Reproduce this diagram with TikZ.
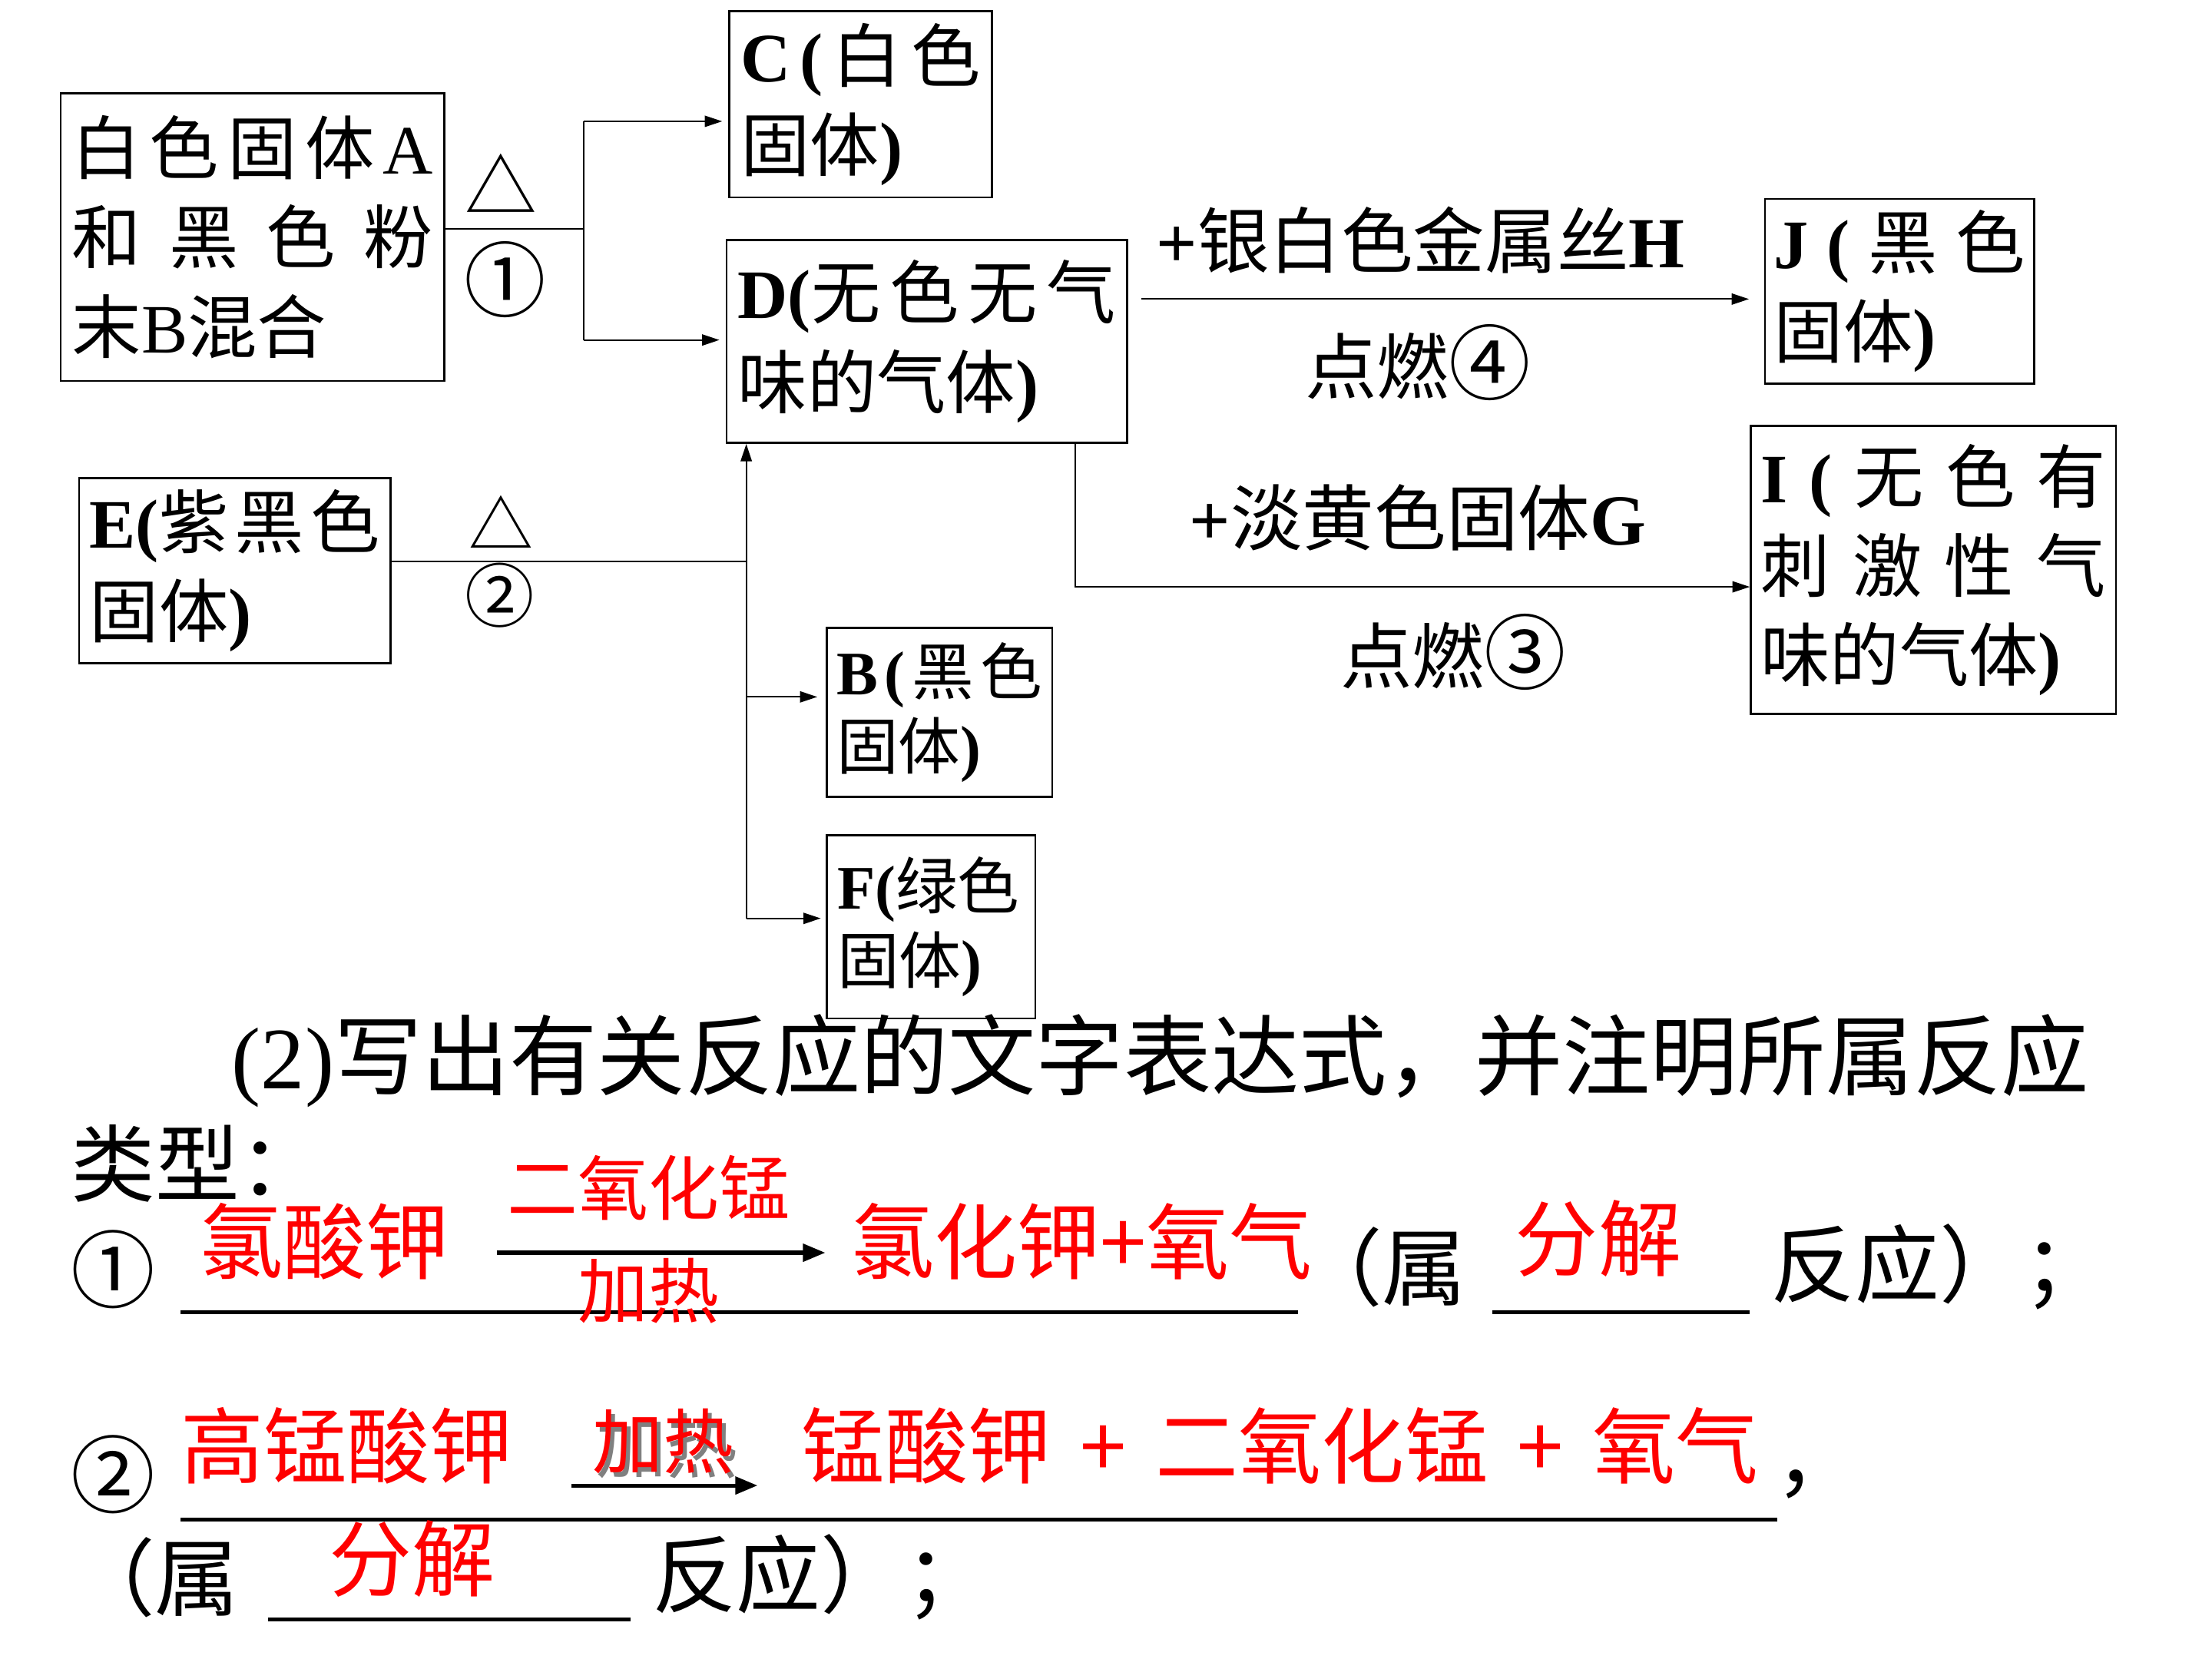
\documentclass[tikz,border=0pt]{standalone}
\usepackage{fontspec}
\setmainfont{Liberation Serif}
\newfontfamily\cjk{Noto Sans CJK SC}
\usetikzlibrary{arrows.meta}
\newcommand\LB[1]{{\rmfamily\bfseries #1}}
\newcommand\LR[1]{{\rmfamily #1}}
\newcommand\jline[1]{\makebox[\linewidth][s]{#1}}
\newcommand\bigc[1]{{\fontsize{33}{34}\selectfont #1}}
\begin{document}
\begin{tikzpicture}[x=0.02cm,y=-0.02cm,
  box/.style={draw, line width=0.8pt, inner sep=0pt, align=left, font=\cjk\fontsize{28}{36}\selectfont},
  sbox/.style={box, font=\cjk\fontsize{25}{30}\selectfont},
  lab/.style={inner sep=0pt, font=\cjk\fontsize{29}{34}\selectfont},
  conn/.style={line width=0.6pt},
  arr/.style={conn, -{Triangle[length=7pt,width=4.5pt]}},
  txt/.style={inner sep=0pt, font=\cjk\fontsize{34}{40}\selectfont},
  ans/.style={txt, text=red, font=\cjk\fontsize{33.5}{40}\selectfont},
  small/.style={font=\cjk\fontsize{28.5}{34}\selectfont},
  uline/.style={line width=1.5pt},
  bigarr/.style={line width=1.6pt, -{Triangle[length=9pt,width=7pt]}},
]
\fill[white] (0,0) rectangle (1568,1176);
\useasboundingbox (0,0) rectangle (1568,1176);

% boxes
\node[box, minimum width=5.44cm, minimum height=4.08cm, text width=5.12cm] (A) at (179,168)
  {\jline{白\hfill 色\hfill 固\hfill 体\hfill\LR{A}}\\\jline{和\hfill 黑\hfill 色\hfill 粉}\\末\LR{B}混合};
\node[box, minimum width=3.72cm, minimum height=2.64cm, text width=3.4cm] (C) at (610,74)
  {\jline{\LB{C}\hfill\LB{(}\hfill 白\hfill 色}\\固体\LB{)}};
\node[box, minimum width=5.68cm, minimum height=2.88cm, text width=5.36cm] (D) at (657,242)
  {\jline{\LB{D(}无\hfill 色\hfill 无\hfill 气}\\味的气体\LB{)}};
\node[box, minimum width=3.82cm, minimum height=2.62cm, text width=3.56cm] (J) at (1346.5,206.5)
  {\jline{\LB{J}\hfill\LB{(}\hfill 黑\hfill 色}\\固体\LB{)}};
\node[box, minimum width=5.18cm, minimum height=4.08cm, text width=4.9cm] (I) at (1370.5,404)
  {\jline{\LB{I}\hfill\LB{(}\hfill 无\hfill 色\hfill 有}\\\jline{刺\hfill 激\hfill 性\hfill 气}\\味的气体\LB{)}};
\node[box, minimum width=4.42cm, minimum height=2.62cm, text width=4.12cm] (E) at (166.5,404.5)
  {\jline{\LB{E(}紫\hfill 黑\hfill 色}\\固体\LB{)}};
\node[sbox, minimum width=3.2cm, minimum height=2.4cm, text width=2.92cm] (B) at (666,505)
  {\jline{\LB{B}\hfill\LB{(}\hfill 黑\hfill 色}\\固体\LB{)}};
\node[sbox, minimum width=2.96cm, minimum height=2.6cm, text width=2.66cm] (F) at (660,657)
  {\LB{F(}绿色\\固体\LB{)}};

% reaction 1
\coordinate (jA) at (414,162);
\coordinate (jC) at (414,86);
\coordinate (jD) at (414,241);
\draw[conn] (A.east |- jA) -- (jA);
\draw[conn] (jC) -- (jD);
\draw[arr, shorten >=2.5pt] (jC) -- (C.west |- jC);
\draw[arr, shorten >=2.5pt] (jD) -- (D.west |- jD);
\node[lab] (t1) at (355,130) {△};
\node[lab] (n1) at (358,198) {\bigc{①}};

% reaction 2
\coordinate (jE) at (529,398);
\coordinate (jB) at (529,494);
\coordinate (jF) at (529,651);
\draw[conn] (E.east |- jE) -- (jE);
\draw[arr] (jF) -- (jE |- D.south);
\draw[arr, shorten >=3.4pt] (jB) -- (B.west |- jB);
\draw[arr, shorten >=2pt] (jF) -- (F.west |- jF);
\node[lab, font=\cjk\fontsize{26}{30}\selectfont] (t2) at (355,370) {△};
\node[lab, font=\cjk\fontsize{28}{30}\selectfont] (n2) at (354,422) {②};

% reaction 4
\coordinate (dJ) at (809,212);
\draw[arr, shorten >=6pt] (dJ) -- (J.west |- dJ);
\node[lab] (h) at (1007,170) {\LB{+}银白色金属丝\LB{H}};
\node[lab] (r4) at (1005,257) {点燃\bigc{④}};

% reaction 3
\coordinate (dI) at (762,416);
\draw[arr] (D.south -| dI) -- (dI) -- (I.west |- dI);
\node[lab] (g) at (1005,367) {\LB{+}淡黄色固体\LB{G}};
\node[lab] (r3) at (1030,462) {点燃\bigc{③}};

% question text
\node[txt, anchor=west, font=\cjk\fontsize{35.4}{40}\selectfont] (q) at (164,752) {\LR{(2)}写出有关反应的文字表达式，并注明所属反应};
\node[txt, anchor=west] (typ) at (50,825) {类型：};

% line 1
\node[txt] (c1) at (80,900) {①};
\draw[uline] (128,930) -- (920,930);
\node[ans] (kc) at (230,880) {氯酸钾};
\coordinate (a1s) at (352,888);
\coordinate (a1e) at (585,888);
\draw[bigarr] (a1s) -- (a1e);
\node[ans, small] (mn) at (460,842) {二氧化锰};
\node[ans, small] (jr1) at (460,915) {加热};
\node[ans] (p1) at (767,880) {氯化钾+氧气};
\node[txt, anchor=east] (s1) at (1040,898) {（属};
\draw[uline] (1058,930) -- (1240,930);
\node[ans] (f1) at (1133,878) {分解};
\node[txt, anchor=west] (e1) at (1255,898) {反应）；};

% line 2
\node[txt] (c2) at (80,1045) {②};
\node[ans] (pk) at (246,1025) {高锰酸钾};
\node[ans, small, text=gray] (jr2s) at (473,1025) {加热};
\node[ans, small] (jr2) at (470,1022) {加热};
\coordinate (a2s) at (405,1053);
\coordinate (a2e) at (537,1053);
\draw[bigarr] (a2s) -- (a2e);
\node[ans, anchor=west] (p2) at (568,1025) {锰酸钾 \hspace{0.13em}+\hspace{0.13em} 二氧化锰 \hspace{0.13em}+\hspace{0.13em} 氧气};
\node[txt, anchor=west] (cm) at (1258,1052) {，};
\draw[uline] (128,1077) -- (1260,1077);
\node[txt, anchor=east] (s2) at (170,1118) {（属};
\draw[uline] (190,1148) -- (447,1148);
\node[ans] (f2) at (292,1105) {分解};
\node[txt, anchor=west] (e2) at (462,1118) {反应）；};
\end{tikzpicture}
\end{document}
